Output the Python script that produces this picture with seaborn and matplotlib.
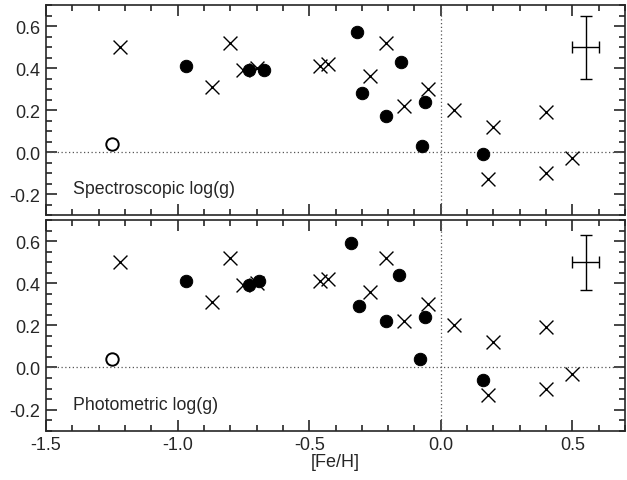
import numpy as np
import pandas as pd
import matplotlib
matplotlib.use("Agg")
import matplotlib.pyplot as plt
import seaborn as sns
from matplotlib.ticker import MultipleLocator

# ---- data ----
cross_feh = [-1.22, -0.87, -0.80, -0.75, -0.70, -0.46, -0.43, -0.21, -0.27, -0.14,
             -0.05, 0.05, 0.20, 0.18, 0.40, 0.40, 0.50]
cross_dlogg = [0.50, 0.31, 0.52, 0.39, 0.40, 0.41, 0.42, 0.52, 0.36, 0.22,
               0.30, 0.20, 0.12, -0.13, 0.19, -0.10, -0.03]

spec_dot_feh = [-0.97, -0.73, -0.67, -0.32, -0.15, -0.30, -0.21, -0.06, -0.07, 0.16]
spec_dot_dlogg = [0.41, 0.39, 0.39, 0.57, 0.43, 0.28, 0.17, 0.24, 0.03, -0.01]

phot_dot_feh = [-0.97, -0.73, -0.69, -0.34, -0.16, -0.31, -0.21, -0.06, -0.08, 0.16]
phot_dot_dlogg = [0.41, 0.39, 0.41, 0.59, 0.44, 0.29, 0.22, 0.24, 0.04, -0.06]

open_feh = [-1.25]
open_dlogg = [0.04]

err_x, err_y = 0.55, 0.50
err_dx = 0.05
err_dy = {'spec': 0.15, 'phot': 0.13}

panel_titles = {'spec': 'Spectroscopic log(g)', 'phot': 'Photometric log(g)'}

# ---- style ----
sns.set_style("ticks")
plt.rcParams['font.family'] = ['Liberation Sans', 'DejaVu Sans']
plt.rcParams['font.size'] = 13

fig = plt.figure(figsize=(6.27, 4.81), dpi=100)
ax_top = fig.add_axes([0.0734, 0.5509, 0.9234, 0.4366])
ax_bot = fig.add_axes([0.0734, 0.1025, 0.9234, 0.4380])

panels = [
    (ax_top, 'spec', spec_dot_feh, spec_dot_dlogg),
    (ax_bot, 'phot', phot_dot_feh, phot_dot_dlogg),
]

for ax, key, dx, dy in panels:
    ax.axhline(0, color='#555555', ls=(0, (1, 2)), lw=0.9, zorder=1)
    ax.axvline(0, color='#555555', ls=(0, (1, 2)), lw=0.9, zorder=1)

    crosses = pd.DataFrame({'feh': cross_feh, 'dlogg': cross_dlogg})
    dots = pd.DataFrame({'feh': dx, 'dlogg': dy})
    opens = pd.DataFrame({'feh': open_feh, 'dlogg': open_dlogg})

    sns.scatterplot(data=crosses, x='feh', y='dlogg', ax=ax, marker='x',
                    s=100, color='black', linewidth=1.0, zorder=3)
    sns.scatterplot(data=dots, x='feh', y='dlogg', ax=ax, marker='o',
                    s=80, color='black', edgecolor='black', zorder=3)
    sns.scatterplot(data=opens, x='feh', y='dlogg', ax=ax, marker='o',
                    s=80, facecolor='white', edgecolor='black', linewidth=1.4, zorder=3)

    ax.errorbar([err_x], [err_y], xerr=[err_dx], yerr=[err_dy[key]],
                fmt='none', ecolor='black', elinewidth=1.0, capsize=4, capthick=1.0)

    ax.text(0.047, 0.124, panel_titles[key], transform=ax.transAxes,
            fontsize=12.8, va='center', ha='left')

    ax.set_xlim(-1.5, 0.7)
    ax.set_ylim(-0.3, 0.7)
    ax.xaxis.set_major_locator(MultipleLocator(0.5))
    ax.xaxis.set_minor_locator(MultipleLocator(0.1))
    ax.yaxis.set_major_locator(MultipleLocator(0.2))
    ax.yaxis.set_minor_locator(MultipleLocator(0.05))
    ax.tick_params(which='both', direction='in', top=True, right=True, width=1.2)
    ax.tick_params(which='major', length=8, pad=4)
    ax.tick_params(which='minor', length=4)
    for sp in ax.spines.values():
        sp.set_linewidth(1.2)
    ax.set_ylabel('')
    ax.set_xlabel('')

ax_top.set_xticklabels([])
ax_bot.set_xticks([-1.5, -1.0, -0.5, 0.0, 0.5])
ax_bot.set_xticklabels(['-1.5', '-1.0', '-0.5', '0.0', '0.5'])
for ax in (ax_top, ax_bot):
    ax.set_yticks([-0.2, 0.0, 0.2, 0.4, 0.6])
    ax.set_yticklabels(['-0.2', '0.0', '0.2', '0.4', '0.6'])
ax_bot.set_xlabel('[Fe/H]', fontsize=13, labelpad=0)

fig.savefig('out.png', dpi=100)
